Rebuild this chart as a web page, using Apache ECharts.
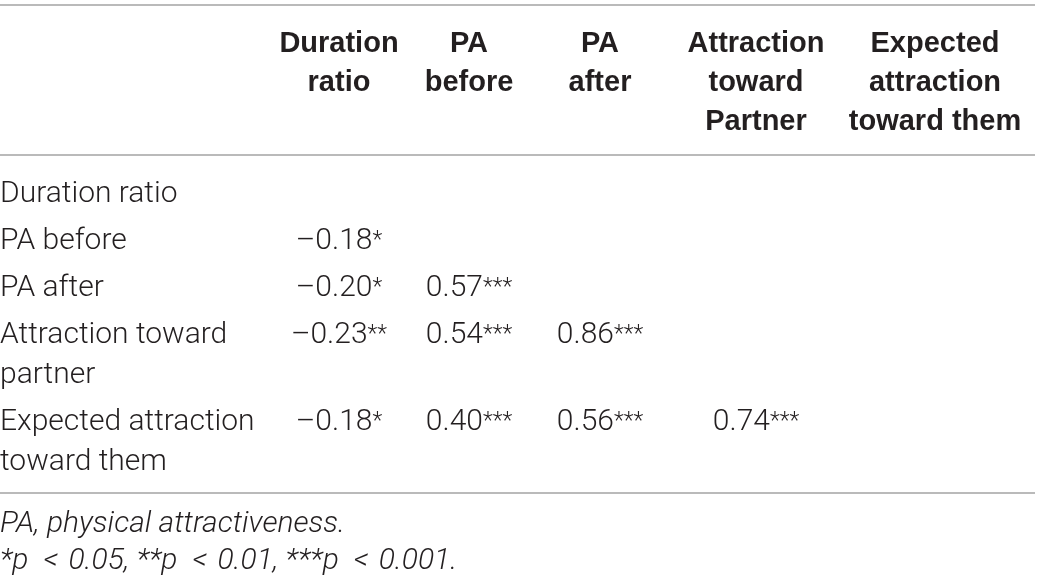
<!DOCTYPE html>
<html>
<head>
<meta charset="utf-8">
<script src="https://cdn.jsdelivr.net/npm/echarts@6/dist/echarts.min.js"></script>
<style>
  html, body { margin: 0; padding: 0; background: #fff; }
  #main { width: 1040px; height: 581px; }
</style>
</head>
<body>
<div id="main"></div>
<script>
// table content
const colHeaders = ['Duration\nratio', 'PA\nbefore', 'PA\nafter', 'Attraction\ntoward\nPartner', 'Expected\nattraction\ntoward them'];
const rowLabels = ['Duration ratio', 'PA before', 'PA after', 'Attraction toward\npartner', 'Expected attraction\ntoward them'];
const coefs = [
  [],
  [-0.18],
  [-0.20, 0.57],
  [-0.23, 0.54, 0.86],
  [-0.18, 0.40, 0.56, 0.74]
];
const stars = [
  [],
  [1],
  [1, 3],
  [2, 3, 3],
  [1, 3, 3, 3]
];
const noteAbbr = 'PA, physical attractiveness.';
const noteLevels = [['*', '0.05'], ['**', '0.01'], ['***', '0.001']];

// layout
const W = 1040, H = 581;
const colX = [339, 469, 600, 756, 935];
const ruleY = [5, 155, 493];
const ruleEnd = 1035;
const headFirst = 44, headLine = 39;
const bodyFirst = 194, bodyLine = 40, rowGap = 47;
const noteFirst = 524, noteLine = 37;
const ink = '#231f20';
const headFam = '"Liberation Sans", Arial, Helvetica, sans-serif';
const bodyFam = 'Roboto, "Liberation Sans", sans-serif';

function fmt(v, s) {
  let t = v.toFixed(2);
  if (v < 0) t = '\u2013' + t.slice(1);
  return '{n|' + t + '}{s|' + '*'.repeat(s) + '}';
}

// first line of each body row
let rowY = [];
let y = bodyFirst;
rowLabels.forEach(function(lab) {
  rowY.push(y);
  y += (lab.split('\n').length - 1) * bodyLine + rowGap;
});

let cells = [];
colHeaders.forEach(function(h, i) {
  cells.push({x: colX[i], y: headFirst, text: h, align: 'center', font: 'bold 29px ' + headFam, lh: headLine});
});
rowLabels.forEach(function(lab, r) {
  cells.push({x: 0, y: rowY[r], text: lab, align: 'left', font: '300 30px ' + bodyFam, lh: bodyLine});
  coefs[r].forEach(function(v, c) {
    cells.push({x: colX[c], y: rowY[r], text: fmt(v, stars[r][c]), align: 'center', font: '300 30px ' + bodyFam, lh: bodyLine, rich: true});
  });
});
let notes = [noteAbbr, noteLevels.map(function(l) { return l[0] + 'p\u2002<\u2004' + l[1]; }).join(', ') + '.'];
notes.forEach(function(n, i) {
  cells.push({x: 0, y: noteFirst + i * noteLine, text: n, align: 'left', font: 'italic 300 30px ' + bodyFam, lh: noteLine});
});

let chart = echarts.init(document.getElementById('main'));
chart.setOption({
  backgroundColor: '#fff',
  animation: false,
  grid: {left: 0, right: 0, top: 0, bottom: 0},
  xAxis: {type: 'value', min: 0, max: W, show: false},
  yAxis: {type: 'value', min: 0, max: H, inverse: true, show: false},
  series: [
    {
      type: 'custom',
      data: ruleY.map(function(v) { return [0, v, ruleEnd]; }),
      renderItem: function(params, api) {
        let a = api.coord([api.value(0), api.value(1)]);
        let b = api.coord([api.value(2), api.value(1)]);
        return {
          type: 'line',
          shape: {x1: a[0], y1: a[1], x2: b[0], y2: b[1]},
          style: {stroke: '#a3a3a3', lineWidth: 1.6}
        };
      }
    },
    {
      type: 'custom',
      data: cells.map(function(c) { return [c.x, c.y]; }),
      renderItem: function(params, api) {
        let c = cells[params.dataIndex];
        let p = api.coord([api.value(0), api.value(1)]);
        let style = {
          text: c.text,
          fill: ink,
          font: c.font,
          lineHeight: c.lh,
          align: c.align,
          verticalAlign: 'top'
        };
        if (c.rich) {
          style.rich = {
            n: {font: '300 30px ' + bodyFam, fill: ink, lineHeight: c.lh},
            s: {font: '300 23px ' + bodyFam, fill: ink}
          };
        }
        return {
          type: 'text',
          x: p[0],
          y: p[1] - c.lh / 2,
          style: style
        };
      }
    }
  ]
});
</script>
</body>
</html>
